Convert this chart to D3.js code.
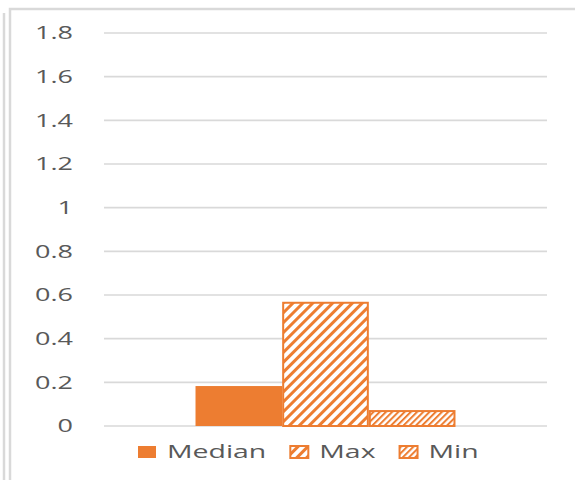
<!DOCTYPE html>
<html>
<head>
<meta charset="utf-8">
<script src="https://cdn.jsdelivr.net/npm/d3@7"></script>
<style>
  html, body { margin: 0; padding: 0; background: #fff; }
  svg { display: block; }
  text { font-family: "Open Sans", sans-serif; fill: #595959; }
</style>
</head>
<body>
<script>
// ---- data ----
const categories = [""];
const seriesNames = ["Median", "Max", "Min"];
const medianValues = [0.183];
const maxValues = [0.569];
const minValues = [0.073];
const tickValues = [0, 0.2, 0.4, 0.6, 0.8, 1, 1.2, 1.4, 1.6, 1.8];
const tickLabels = ["0", "0.2", "0.4", "0.6", "0.8", "1", "1.2", "1.4", "1.6", "1.8"];

const W = 575, H = 480;
const orange = "#ED7D31";
const grid = "#d9d9d9";
const sx = 1.5;   // horizontal text stretch seen in the reference (ticks)
const sxL = 1.58; // legend stretch

const svg = d3.select("body").append("svg").attr("width", W).attr("height", H);

// patterns
const defs = svg.append("defs");
function stripePattern(id, period, thick) {
  const p = defs.append("pattern")
    .attr("id", id)
    .attr("patternUnits", "userSpaceOnUse")
    .attr("width", period).attr("height", period)
    .attr("patternTransform", "rotate(45)");
  p.append("rect").attr("width", period).attr("height", period).attr("fill", "#fff");
  p.append("rect").attr("width", thick).attr("height", period).attr("fill", orange);
}
stripePattern("patMax", 7, 3);
stripePattern("patMin", 4.4, 2);
const fills = { Median: orange, Max: "url(#patMax)", Min: "url(#patMin)" };

// frame
svg.append("line").attr("x1", 4).attr("x2", 4).attr("y1", 13).attr("y2", H)
  .attr("stroke", grid).attr("stroke-width", 2.5);
svg.append("path").attr("d", `M10,${H} L10,9 L${W},9`)
  .attr("fill", "none").attr("stroke", grid).attr("stroke-width", 2.5);

// scales
const plot = { left: 104, right: 547, top: 33, bottom: 426 };
const y = d3.scaleLinear().domain([0, 1.8]).range([plot.bottom, plot.top]);
const x0 = d3.scaleBand().domain(categories).range([plot.left, plot.right])
  .paddingInner(0).paddingOuter(0.352);
const x1 = d3.scaleBand().domain(seriesNames).range([0, x0.bandwidth()]).padding(0);

// gridlines
svg.append("g").selectAll("line").data(tickValues).join("line")
  .attr("x1", plot.left).attr("x2", plot.right)
  .attr("y1", d => y(d)).attr("y2", d => y(d))
  .attr("stroke", grid).attr("stroke-width", 1.6);

// y tick labels
svg.append("g").selectAll("text").data(tickValues).join("text")
  .attr("transform", d => `translate(73,${y(d)}) scale(${sx},1)`)
  .attr("text-anchor", "end").attr("dy", "0.36em")
  .style("font-size", "18px").style("font-weight", 500)
  .text((d, i) => tickLabels[i]);

// bars
const rows = categories.map((c, i) => ({
  cat: c,
  vals: [
    { s: "Median", v: medianValues[i] },
    { s: "Max", v: maxValues[i] },
    { s: "Min", v: minValues[i] }
  ]
}));
const g = svg.append("g");
rows.forEach(r => {
  g.selectAll(null).data(r.vals).join("rect")
    .attr("x", d => x0(r.cat) + x1(d.s) + (d.s === "Median" ? 0 : 1))
    .attr("y", d => y(d.v) + (d.s === "Median" ? 0 : 1))
    .attr("width", d => x1.bandwidth() - (d.s === "Median" ? 0 : 2))
    .attr("height", d => y(0) - y(d.v) - (d.s === "Median" ? 0 : 1))
    .attr("fill", d => fills[d.s])
    .attr("stroke", d => d.s === "Median" ? "none" : orange)
    .attr("stroke-width", 2);
});

// legend
const legend = svg.append("g");
let lx = 137;
const ly = 445;
seriesNames.forEach(s => {
  legend.append("rect").attr("x", lx + 1).attr("y", ly + 1).attr("width", 18).attr("height", 12)
    .attr("fill", fills[s])
    .attr("stroke", s === "Median" ? "none" : orange).attr("stroke-width", 2);
  const t = legend.append("text")
    .attr("transform", `translate(${lx + 30},${ly + 13}) scale(${sxL},1)`)
    .style("font-size", "18px").style("font-weight", 500)
    .text(s);
  const w = t.node().getComputedTextLength() * sxL;
  lx += 30 + w + 23;
});
</script>
</body>
</html>
